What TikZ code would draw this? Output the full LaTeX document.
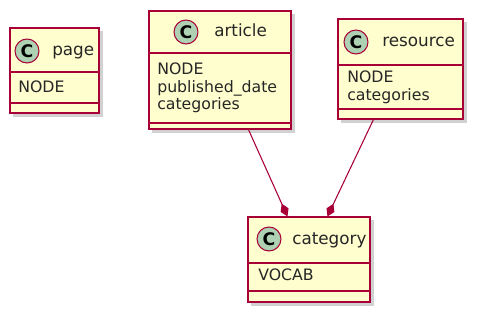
\documentclass[tikz,border=0pt]{standalone}
\usepackage{fontspec}
\setmainfont{DejaVu Sans}
\usetikzlibrary{fit,arrows.meta,calc}
\definecolor{umlborder}{HTML}{A80036}
\definecolor{umlfill}{HTML}{FEFECE}
\definecolor{umlcirc}{HTML}{ADD1B2}
\tikzset{
  x=0.75pt,y=-0.75pt,
  classbox/.style={draw=umlborder,fill=umlfill,line width=0.8pt,inner sep=0pt,rectangle},
  shadowbox/.style={fill=black!30,opacity=0.6},
  sepline/.style={draw=umlborder,line width=0.8pt},
  cmark/.style={circle,draw=umlborder,fill=umlcirc,line width=0.8pt,minimum size=18pt,inner sep=0pt,font=\fontsize{13}{13}\selectfont\bfseries},
  cname/.style={anchor=base west,inner sep=0pt,font=\fontsize{12.6}{14}\selectfont,text=black!85},
  cattr/.style={anchor=base west,inner sep=0pt,font=\fontsize{11.8}{13}\selectfont,text=black!85},
  comp/.style={draw=umlborder,line width=0.8pt,-{Diamond[length=10.5pt,width=6.5pt,fill=umlborder]}},
}
\begin{document}
\begin{tikzpicture}
\useasboundingbox (0,0) rectangle (480,320);
% shadows
\fill[shadowbox] (13,31) rectangle (103,117);
\fill[shadowbox] (152,14) rectangle (295,133);
\fill[shadowbox] (341,22) rectangle (467,123);
\fill[shadowbox] (251,220) rectangle (374,306);
% page
\node[classbox,fit={(10,28) (99,113)}] (page) {};
\draw[sepline] (10,72) -- (99,72);
\draw[sepline] (10,103) -- (99,103);
\node[cmark] (pagec) at (27,51) {C};
\node[cname] (pagen) at (52,56) {page};
\node[cattr] (pagea) at (18,93) {NODE};
% article
\node[classbox,fit={(149,11) (291,129)}] (article) {};
\draw[sepline] (149,53) -- (291,53);
\draw[sepline] (149,123) -- (291,123);
\node[cmark] (articlec) at (186,32) {C};
\node[cname] (articlen) at (214,37) {article};
\node[cattr] (articlea1) at (157,75) {NODE};
\node[cattr] (articlea2) at (157,93) {published\_date};
\node[cattr] (articlea3) at (157,110) {categories};
% resource
\node[classbox,fit={(338,19) (463,119)}] (resource) {};
\draw[sepline] (338,65) -- (463,65);
\draw[sepline] (338,109) -- (463,109);
\node[cmark] (resourcec) at (356,42) {C};
\node[cname] (resourcen) at (382,47) {resource};
\node[cattr] (resourcea1) at (347,83) {NODE};
\node[cattr] (resourcea2) at (347,101) {categories};
% category
\node[classbox,fit={(248,217) (370,302)}] (category) {};
\draw[sepline] (248,263) -- (370,263);
\draw[sepline] (248,291) -- (370,291);
\node[cmark] (categoryc) at (269,239) {C};
\node[cname] (categoryn) at (292,245) {category};
\node[cattr] (categorya) at (258,281) {VOCAB};
% connectors
\draw[comp] ($(article.south west)+(100,0)$) -- ($(category.north west)+(40,0)$);
\draw[comp] ($(resource.south west)+(36,0)$) -- ($(category.north west)+(80,0)$);
\end{tikzpicture}
\end{document}
